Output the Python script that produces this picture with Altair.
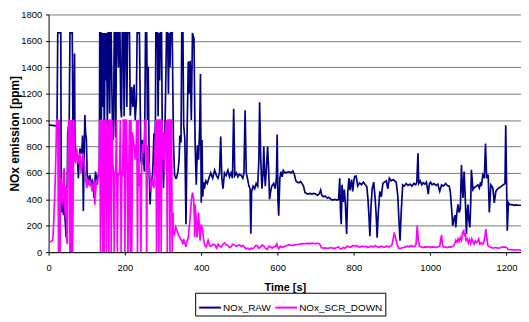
import altair as alt
import pandas as pd

# NOx_RAW: (time [s], ppm)
raw_points = [
    (0, 965), (5, 962), (10, 960), (15, 958), (20, 955), (22, 945),
    (24, 1660), (28, 1660), (32, 1660),
    (33, 400), (35, 300), (37, 420), (39, 280), (41, 400), (43, 260), (46, 110), (48, 220),
    (50, 900), (52, 950), (54, 970), (56, 1660), (60, 1660), (62, 1660),
    (64, 850), (66, 820), (68, 1505), (69, 810), (72, 760), (74, 710), (76, 700), (78, 560),
    (80, 700), (82, 784), (85, 760), (87, 746), (89, 883), (91, 311), (93, 700), (95, 1038),
    (97, 900), (99, 860), (101, 585), (104, 535), (106, 560), (108, 585), (111, 520), (114, 540),
    (117, 485), (119, 410), (121, 520), (123, 610), (125, 560), (127, 510), (129, 580), (131, 585),
    (133, 600),
    (134, 1660), (137, 1660), (138, 900), (140, 1660), (142, 1100), (144, 1660), (146, 800),
    (148, 1660), (150, 1300), (152, 1660), (154, 950), (156, 1660), (158, 1660), (160, 1050),
    (162, 1660), (164, 1660), (166, 1200), (168, 850), (170, 870), (172, 1660), (174, 1660),
    (176, 870), (178, 1660), (181, 1660), (183, 1400), (185, 1660), (187, 1660), (189, 1100),
    (191, 1020), (193, 1660), (196, 1660), (198, 1030), (200, 1660), (203, 1660), (205, 1100),
    (207, 1660), (210, 1660), (212, 1660), (214, 1033), (218, 1250), (221, 1100), (224, 1269),
    (227, 1000), (230, 1150), (232, 1660), (235, 1660), (238, 1660), (240, 1132), (242, 700),
    (244, 660), (246, 850), (249, 700), (251, 610), (254, 1660), (257, 1660), (259, 1000),
    (261, 1406), (264, 560), (266, 361), (268, 500), (270, 535), (273, 610), (276, 900),
    (277, 659), (280, 1000), (281, 1660), (284, 1660), (285, 1660), (287, 1030), (289, 1660),
    (291, 1300), (293, 1660), (296, 1660), (298, 858), (301, 485), (304, 800), (306, 1100),
    (309, 1660), (312, 1660), (314, 1200), (316, 1660), (318, 1400), (320, 1660), (322, 1660),
    (324, 1660), (327, 858), (330, 585), (333, 560), (335, 560), (339, 610), (342, 700),
    (344, 883), (347, 830), (349, 1660), (352, 1660), (354, 958), (357, 858), (360, 211),
    (363, 908), (366, 1443), (368, 1200), (371, 1450), (374, 1000), (377, 1660), (381, 1618),
    (384, 809), (387, 510), (390, 809), (393, 700), (396, 960), (398, 1350), (400, 375),
    (402, 850), (404, 420), (406, 530),
    (408, 480), (412, 540), (416, 520), (420, 560), (425, 600), (430, 560), (435, 620), (440, 580),
    (444, 560), (448, 600), (451, 875), (454, 560), (457, 480), (461, 600), (465, 580), (470, 620),
    (474, 570), (478, 600), (482, 560), (485, 1085), (488, 580), (492, 600), (496, 570), (500, 590),
    (505, 580), (509, 560), (512, 600), (515, 1075), (518, 600), (521, 560), (525, 500), (528, 480),
    (530, 140), (532, 460), (536, 500), (540, 480), (544, 520), (548, 500), (551, 700), (553, 1135),
    (556, 700), (559, 480), (562, 600), (564, 800), (566, 600), (568, 500), (571, 650), (574, 800),
    (577, 600), (579, 400), (582, 460), (585, 500), (590, 520), (594, 480), (597, 560), (599, 890),
    (601, 400), (603, 275), (606, 560), (609, 610), (612, 570), (615, 620), (620, 600), (625, 605),
    (630, 610), (635, 600), (640, 615), (644, 590), (648, 540), (652, 530), (656, 525), (660, 535),
    (664, 520), (668, 500), (672, 450), (676, 445), (680, 440), (685, 445), (690, 440), (695, 445),
    (700, 440), (705, 430), (710, 445), (713, 470), (716, 430), (720, 420), (725, 425), (730, 410),
    (735, 415), (740, 400), (745, 395), (750, 400), (755, 395), (760, 400), (763, 560), (765, 300),
    (767, 212), (769, 510), (772, 380), (775, 474), (778, 350), (781, 137), (784, 450), (787, 560),
    (790, 470), (794, 550), (797, 460), (800, 540), (802, 573), (806, 576), (810, 500), (815, 525),
    (820, 510), (825, 530), (830, 510), (834, 495), (837, 400), (840, 250), (842, 120), (845, 350),
    (848, 480), (852, 530), (856, 400), (859, 250), (861, 110), (864, 300), (868, 460), (872, 420),
    (876, 520), (880, 530), (885, 540), (889, 480), (893, 560), (898, 540), (903, 550), (907, 540),
    (911, 530), (915, 430), (918, 250), (921, 87), (924, 300), (928, 509), (932, 500), (937, 520),
    (942, 505), (947, 515), (952, 500), (957, 520), (962, 510), (965, 530), (968, 748), (970, 520),
    (974, 540), (978, 510), (982, 525), (986, 515), (990, 530), (995, 440), (998, 520), (1001, 530),
    (1005, 510), (1010, 520), (1015, 505), (1020, 515), (1025, 460), (1030, 510), (1035, 500),
    (1040, 520), (1045, 505), (1050, 500), (1053, 450), (1056, 336), (1059, 200), (1062, 249),
    (1065, 280), (1067, 187), (1070, 300), (1073, 362), (1076, 300), (1079, 330), (1082, 660),
    (1084, 500), (1086, 411), (1089, 611), (1092, 400), (1095, 137), (1097, 300), (1099, 360),
    (1101, 250), (1104, 187), (1106, 350), (1108, 623), (1110, 550), (1112, 473), (1116, 490),
    (1121, 500), (1125, 510), (1129, 485), (1132, 530), (1134, 500), (1138, 585), (1142, 560),
    (1145, 822), (1148, 560), (1152, 585), (1155, 300), (1159, 510), (1164, 490), (1168, 373),
    (1172, 460), (1177, 480), (1182, 490), (1187, 500), (1192, 510), (1196, 520), (1198, 960),
    (1202, 162), (1205, 373), (1208, 360), (1215, 360), (1220, 355), (1225, 358), (1230, 355),
    (1238, 355),
]

# NOx_SCR_DOWN: (time [s], ppm)
scr_points = [
    (0, 80), (5, 80), (9, 85), (11, 95), (13, 200), (15, 350), (17, 500), (19, 720), (21, 1000),
    (23, 1000), (24, 1000), (26, 0), (28, 1000), (30, 0), (31, 500), (33, 560), (35, 400),
    (37, 360), (39, 610), (41, 635), (43, 300), (45, 261), (46, 500), (48, 80), (49, 60),
    (51, 858), (53, 1000), (54, 1000), (56, 0), (57, 1000), (59, 0), (61, 1000), (63, 0),
    (66, 1000), (68, 700), (71, 684), (74, 784), (76, 700), (78, 684), (80, 720), (82, 750),
    (85, 600), (87, 660), (90, 750), (92, 700), (94, 659), (97, 560), (100, 485), (102, 560),
    (104, 520), (106, 510), (108, 540), (110, 535), (112, 500), (114, 460), (117, 520), (119, 540),
    (121, 360), (123, 440), (125, 550), (128, 520), (131, 600), (133, 700),
    (134, 1000), (136, 0), (138, 1000), (140, 1000), (142, 0), (144, 1000), (146, 0), (148, 1000),
    (150, 1000), (152, 0), (154, 900), (156, 1000), (158, 0), (160, 1000), (162, 1000), (164, 0),
    (166, 1000), (168, 700), (170, 600), (172, 0), (174, 600), (176, 620), (178, 1000), (180, 0),
    (182, 600), (184, 580), (186, 620), (188, 1000), (190, 0), (192, 600), (194, 590), (196, 1000),
    (198, 1000), (200, 0), (202, 1000), (204, 1000), (206, 610), (208, 0), (210, 600), (212, 1000),
    (214, 0), (216, 1000), (218, 0), (220, 908), (222, 850), (225, 784), (227, 700), (229, 740),
    (231, 1000), (233, 0), (235, 1000), (238, 500), (240, 600), (242, 0), (244, 700), (246, 820),
    (249, 750), (251, 858), (253, 1000), (255, 1000), (257, 0), (259, 809), (262, 700), (264, 659),
    (266, 560), (268, 460), (270, 535), (272, 500), (274, 550), (276, 485), (278, 700), (281, 1000),
    (283, 0), (285, 1000), (287, 1000), (289, 0), (291, 1000), (293, 1000), (295, 0), (297, 1000),
    (299, 700), (301, 908), (304, 610), (306, 900), (309, 1000), (311, 0), (313, 1000), (316, 1000),
    (318, 0), (320, 1000), (322, 1000), (324, 0), (326, 300), (327, 161), (330, 137), (333, 190),
    (337, 161), (341, 124), (344, 110), (346, 100), (350, 82), (352, 60), (354, 100), (356, 70),
    (358, 62), (360, 40), (363, 87), (365, 100), (367, 137), (369, 200), (371, 261), (374, 386),
    (377, 450), (380, 410), (382, 250), (383, 112), (384, 360), (387, 250), (389, 112), (391, 180),
    (393, 300), (395, 200), (397, 87), (400, 200), (402, 190), (404, 160), (406, 100), (409, 55),
    (413, 40), (418, 90), (422, 50), (426, 45), (431, 60), (436, 55), (440, 30), (444, 60),
    (448, 45), (453, 40), (457, 60), (461, 70), (465, 55), (470, 50), (474, 35), (478, 40),
    (482, 60), (487, 55), (492, 45), (496, 50), (500, 55), (505, 45), (509, 50), (513, 40),
    (517, 25), (522, 30), (527, 20), (531, 30), (535, 25), (539, 35), (543, 50), (547, 50),
    (551, 30), (556, 40), (560, 55), (564, 45), (568, 30), (573, 20), (577, 45), (582, 40),
    (586, 30), (590, 40), (595, 45), (598, 62), (600, 40), (603, 25), (607, 45), (612, 35),
    (616, 40), (620, 45), (625, 50), (630, 55), (635, 52), (640, 50), (645, 55), (651, 58),
    (656, 60), (660, 62), (665, 63), (670, 65), (675, 64), (680, 66), (685, 65), (690, 68),
    (695, 66), (700, 65), (705, 67), (709, 64), (712, 55), (715, 35), (720, 30), (725, 32),
    (730, 28), (735, 30), (740, 35), (745, 30), (750, 28), (755, 35), (760, 40), (763, 30),
    (767, 25), (772, 35), (777, 30), (782, 45), (787, 40), (792, 38), (797, 50), (802, 45),
    (806, 50), (811, 42), (816, 38), (821, 45), (826, 40), (831, 45), (836, 35), (841, 40),
    (846, 45), (851, 38), (856, 50), (861, 40), (866, 35), (871, 45), (876, 40), (881, 38),
    (886, 45), (891, 40), (896, 45), (900, 55), (903, 100), (906, 150), (908, 120), (911, 88),
    (914, 50), (918, 30), (922, 28), (926, 32), (930, 35), (935, 40), (940, 45), (945, 40),
    (950, 50), (955, 42), (960, 45), (963, 60), (966, 200), (969, 90), (972, 45), (976, 40),
    (981, 35), (986, 40), (991, 38), (996, 42), (1001, 35), (1006, 40), (1011, 38), (1016, 35),
    (1021, 42), (1025, 45), (1028, 100), (1030, 130), (1032, 60), (1035, 40), (1040, 38),
    (1045, 35), (1050, 40), (1055, 38), (1060, 45), (1064, 60), (1067, 90), (1070, 75),
    (1073, 100), (1076, 80), (1079, 110), (1082, 90), (1085, 150), (1088, 162), (1090, 120),
    (1092, 140), (1094, 90), (1097, 100), (1100, 70), (1103, 95), (1106, 65), (1109, 100),
    (1112, 80), (1115, 60), (1118, 85), (1121, 70), (1124, 80), (1127, 100), (1130, 60),
    (1134, 70), (1138, 60), (1141, 80), (1144, 130), (1146, 175), (1148, 120), (1151, 50),
    (1155, 40), (1160, 35), (1165, 30), (1170, 35), (1175, 32), (1180, 30), (1185, 35),
    (1190, 38), (1195, 40), (1200, 35), (1204, 20), (1210, 18), (1215, 20), (1220, 15),
    (1225, 18), (1230, 16), (1238, 15),
]

series_names = ["NOx_RAW", "NOx_SCR_DOWN"]
series_colors = ["#000080", "#FF00FF"]
x_ticks = [0, 200, 400, 600, 800, 1000, 1200]
y_ticks = [0, 200, 400, 600, 800, 1000, 1200, 1400, 1600, 1800]

rows = []
for name, pts in zip(series_names, [raw_points, scr_points]):
    for i, (t, v) in enumerate(pts):
        rows.append({"t": t, "v": v, "s": name, "o": i})
df = pd.DataFrame(rows)

FONT = "Liberation Sans"

chart = alt.Chart(df).mark_line(strokeWidth=1.7, clip=True).encode(
    x=alt.X("t:Q",
            scale=alt.Scale(domain=[0, 1238], nice=False, zero=False),
            axis=alt.Axis(values=x_ticks, format="d", grid=False, domainColor="black",
                          tickColor="black", tickSize=3, labelFontSize=9.5, labelFont=FONT,
                          labelColor="black", labelPadding=8, labelFlush=False,
                          title="Time [s]", titleFont=FONT, titleFontSize=11,
                          titleFontWeight="bold", titleColor="black",
                          titleBaseline="middle", titleY=36)),
    y=alt.Y("v:Q",
            scale=alt.Scale(domain=[0, 1800], nice=False),
            axis=alt.Axis(values=y_ticks, format="d", grid=True, gridColor="#7a7a7a",
                          gridWidth=1, domainColor="black", tickColor="black", tickSize=3,
                          labelFontSize=9.5, labelFont=FONT, labelColor="black", labelPadding=4,
                          title="NOx emission [ppm]", titleFont=FONT, titleFontSize=12,
                          titleFontWeight="bold", titleColor="black",
                          titleBaseline="middle", titleX=-34, titleY=120)),
    color=alt.Color("s:N",
                    scale=alt.Scale(domain=series_names, range=series_colors),
                    legend=alt.Legend(orient="none", legendX=148, legendY=281,
                                      direction="horizontal", columns=2, title=None,
                                      symbolType="stroke", symbolSize=484,
                                      symbolStrokeWidth=2, labelFontSize=10, labelFont=FONT,
                                      labelColor="black", labelOffset=1, columnPadding=0,
                                      padding=3, strokeColor="black")),
    order="o:Q",
).properties(
    width=477, height=240,
    autosize=alt.AutoSizeParams(type="none"),
    padding={"left": 41, "top": 5, "right": 0, "bottom": 68},
).configure_view(stroke=None)

chart.save("out.html", embed_options={"renderer": "svg", "actions": False})
